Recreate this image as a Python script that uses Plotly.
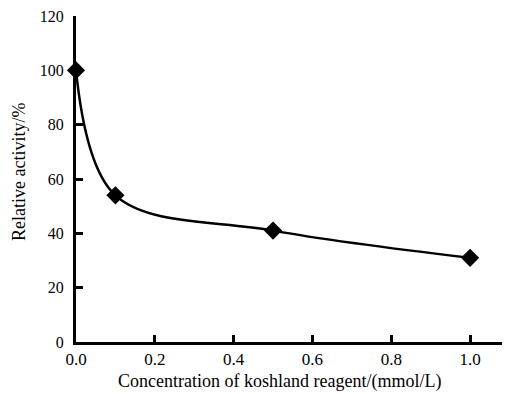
import plotly.graph_objects as go

concentration = [0.0, 0.1, 0.5, 1.0]
relative_activity = [100, 54, 41, 31]
x_ticks = [0.0, 0.2, 0.4, 0.6, 0.8, 1.0]
x_tick_labels = ["0.0", "0.2", "0.4", "0.6", "0.8", "1.0"]
y_ticks = [0, 20, 40, 60, 80, 100, 120]

fig = go.Figure()
fig.add_trace(go.Scatter(
    x=concentration, y=relative_activity,
    mode="lines+markers",
    line=dict(color="black", width=2.5, shape="spline", smoothing=1.0),
    marker=dict(symbol="diamond", size=14, color="black"),
    showlegend=False,
    cliponaxis=False,
))

serif = "Liberation Serif"

# page body has an 8px default margin, so the figure is drawn 8px in
fig.update_layout(
    width=502, height=386,
    margin=dict(l=68, r=8, t=8, b=52),
    paper_bgcolor="white", plot_bgcolor="white",
    font=dict(family=serif, size=17, color="black"),
)
fig.update_xaxes(
    range=[0, 1.081], tickvals=x_ticks, ticktext=x_tick_labels,
    ticks="inside", ticklen=7, tickwidth=2.5, tickcolor="black",
    showline=True, linecolor="black", linewidth=3,
    showgrid=False, zeroline=False, automargin=False,
    tickfont=dict(family=serif, size=17), ticklabeloverflow="allow",
)
fig.update_yaxes(
    range=[0, 120], tickvals=y_ticks,
    ticks="inside", ticklen=7, tickwidth=2.5, tickcolor="black",
    showline=True, linecolor="black", linewidth=3,
    showgrid=False, zeroline=False, automargin=False,
    tickfont=dict(family=serif, size=16), ticklabelstandoff=6, ticklabeloverflow="allow",
)

fig.add_annotation(
    text="Concentration of koshland reagent/(mmol/L)",
    xref="paper", yref="paper", x=(279 - 76) / 426, y=-(381 - 342) / 326,
    showarrow=False, font=dict(family=serif, size=18, color="black"),
    xanchor="center", yanchor="middle",
)
fig.add_annotation(
    text="Relative activity/%",
    xref="paper", yref="paper", x=-(76 - 19) / 426, y=(342 - 172) / 326,
    showarrow=False, textangle=-90, font=dict(family=serif, size=18, color="black"),
    xanchor="center", yanchor="middle",
)

fig.write_html("out.html")
